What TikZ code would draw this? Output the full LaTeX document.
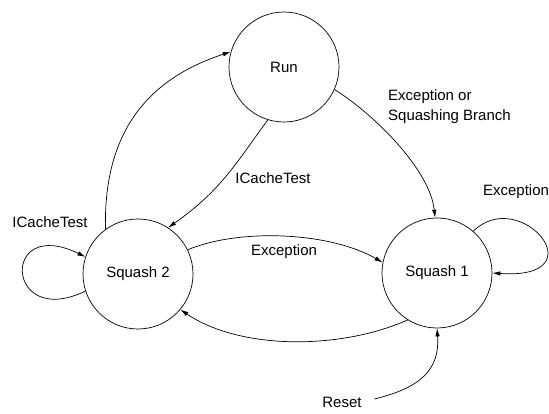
\documentclass[tikz,border=0pt]{standalone}
\usepackage{fontspec}
\setmainfont{Liberation Sans}
\usetikzlibrary{arrows.meta}

\begin{document}
\begin{tikzpicture}[x=1pt,y=-1pt,>={Latex[length=8pt,width=4.5pt]},font=\fontsize{15}{20}\selectfont]
  \tikzstyle{state}=[circle,draw,line width=0.7pt,minimum size=110pt,inner sep=0pt]
  \tikzstyle{trans}=[->,line width=0.7pt]
  \tikzstyle{lbl}=[inner sep=0pt]
  \useasboundingbox (0,0) rectangle (549,413);
  % states
  \node[state] (run) at (284,67) {Run};
  \node[state] (sqtwo) at (138,274) {Squash 2};
  \node[state] (sqone) at (437,273) {Squash 1};
  \node[lbl] (reset) at (342,402) {Reset};
  % transitions
  \draw[trans] (sqtwo.126) .. controls (103,120) and (160,75) .. (run.164);
  \draw[trans] (run.-107) .. controls (238,160) and (222,190) .. (sqtwo.57);
  \draw[trans] (run.-24) .. controls (375,115) and (430,170) .. (sqone.92);
  \draw[trans] (sqone.49) .. controls (520,185) and (600,280) .. (sqone.0);
  \draw[trans] (sqtwo.26) .. controls (240,228) and (330,232) .. (sqone.169);
  \draw[trans] (sqone.-122) .. controls (340,350) and (240,350) .. (sqtwo.-40);
  \draw[trans] (sqtwo.-162) .. controls (5,330) and (0,215) .. (sqtwo.162);
  \draw[trans,shorten <=13pt] (reset.east) .. controls (420,388) and (440,370) .. (sqone.-90);
  % labels
  \node[lbl,align=left,anchor=west] (exsq) at (388,107) {Exception or\\Squashing Branch};
  \node[lbl] (icmid) at (273,178) {ICacheTest};
  \node[lbl] (exloop) at (516,192) {Exception};
  \node[lbl] (exmid) at (284,252) {Exception};
  \node[lbl] (icloop) at (50,222) {ICacheTest};
\end{tikzpicture}
\end{document}
